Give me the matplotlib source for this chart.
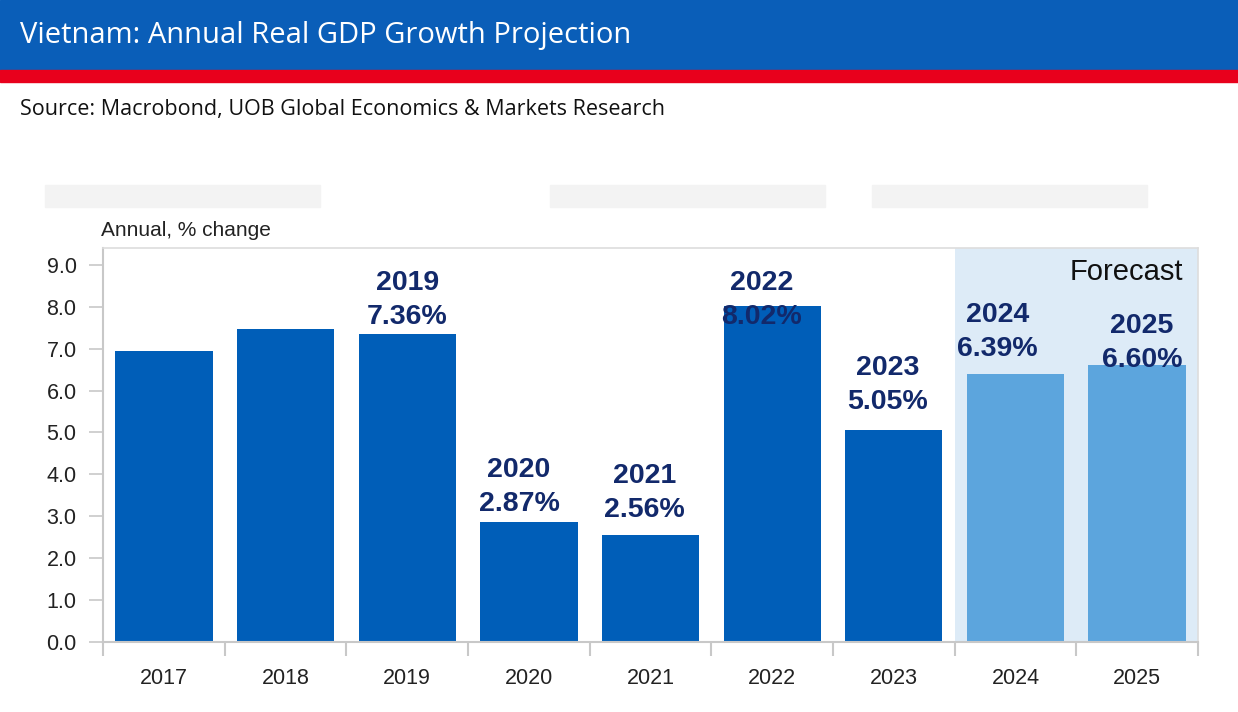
import numpy as np
import matplotlib.pyplot as plt
from matplotlib.patches import Rectangle

years = ["2017", "2018", "2019", "2020", "2021", "2022", "2023", "2024", "2025"]
growth = [6.94, 7.47, 7.36, 2.87, 2.56, 8.02, 5.05, 6.39, 6.60]
is_forecast = [False] * 7 + [True] * 2
labelled = ["2019", "2020", "2021", "2022", "2023", "2024", "2025"]

# label placement (offsets from the bar top, data units)
lab_dx = {"2019": 0.0, "2020": -0.08, "2021": -0.05, "2022": -0.09,
          "2023": -0.05, "2024": -0.15, "2025": 0.04}
lab_dy = {"2019": 0.80, "2020": 0.83, "2021": 1.00, "2022": 0.14,
          "2023": 1.08, "2024": 1.01, "2025": 0.54}

blue = "#005EB8"
light_blue = "#5CA5DD"
shade = "#DDEBF7"
navy = "#12296B"
grey = "#C8C8C8"

plt.rcParams['font.family'] = ['Liberation Sans', 'DejaVu Sans']

fig = plt.figure(figsize=(12.38, 7.12), dpi=100)

# header band
fig.patches.append(Rectangle((0, 1 - 70 / 712), 1, 70 / 712, transform=fig.transFigure,
                             color="#0A5EB8", zorder=0))
fig.patches.append(Rectangle((0, 1 - 82 / 712), 1, 12 / 712, transform=fig.transFigure,
                             color="#E8001C", zorder=0))
fig.text(20 / 1238, 1 - 36 / 712, "Vietnam: Annual Real GDP Growth Projection",
         color="white", fontsize=21, va="center", ha="left", family="Open Sans")
fig.text(20 / 1238, 1 - 109 / 712, "Source: Macrobond, UOB Global Economics & Markets Research",
         color="#111111", fontsize=15.5, va="center", ha="left", family="Open Sans")

# faded placeholder blocks
for x0 in [45, 550, 872]:
    fig.patches.append(Rectangle((x0 / 1238, 1 - 207 / 712), 275 / 1238, 22 / 712,
                                 transform=fig.transFigure, color="#F3F3F3", zorder=0))

ax = fig.add_axes([103 / 1238, 1 - 642 / 712, (1198 - 103) / 1238, (642 - 248) / 712])
x = np.arange(len(years))

ax.axvspan(6.5, 8.5, color=shade, zorder=0, lw=0)
colors = [light_blue if f else blue for f in is_forecast]
ax.bar(x, growth, width=0.8, color=colors, zorder=2)

for i, (yr, v) in enumerate(zip(years, growth)):
    if yr in labelled:
        ax.text(i + lab_dx[yr], v + lab_dy[yr], f"{yr}\n{v:.2f}%", ha="center", va="center",
                fontsize=20.5, fontweight="bold", color=navy, linespacing=1.42, zorder=3)

ax.text(8.38, 8.82, "Forecast", ha="right", va="center", fontsize=21, color="#111111")

ax.set_xlim(-0.5, 8.5)
ax.set_ylim(0, 9.4)
ax.set_yticks(np.arange(0, 10, 1))
ax.set_yticklabels([f"{v:.1f}" for v in range(10)], fontsize=15.5, color="#222222")
ax.set_xticks(x)
ax.set_xticklabels(years, fontsize=15.5, color="#222222")
ax.set_xticks(np.arange(-0.5, 9, 1), minor=True)
ax.tick_params(axis="x", which="major", length=0, pad=19)
ax.tick_params(axis="x", which="minor", length=10, color=grey, width=1.5)
ax.tick_params(axis="y", length=10, color=grey, width=1.2, pad=9)

for s in ["left", "bottom"]:
    ax.spines[s].set_color(grey)
    ax.spines[s].set_linewidth(1.5)
for s in ["top", "right"]:
    ax.spines[s].set_color("#DDDDDD")
    ax.spines[s].set_linewidth(1.2)

fig.text(101 / 1238, 1 - 231 / 712, "Annual, % change", fontsize=15, color="#222222",
         ha="left", va="center")

fig.savefig("out.png", dpi=100)
